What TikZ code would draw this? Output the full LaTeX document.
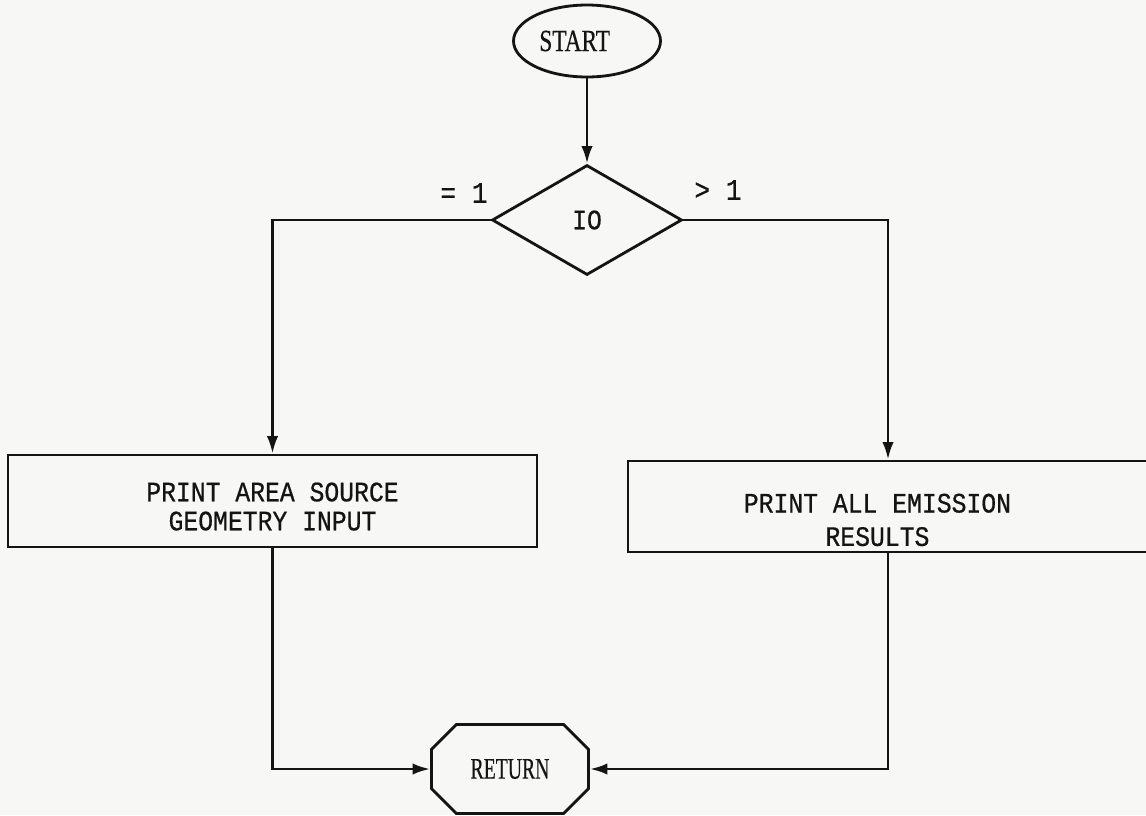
\documentclass[tikz,border=0pt]{standalone}
\usepackage{fontspec}
\setmainfont[FakeStretch=0.88,FakeBold=0.6]{Liberation Mono}
\newfontfamily\serifstart[FakeStretch=0.76,FakeBold=0.4]{Liberation Serif}
\newfontfamily\serifret[FakeStretch=0.66,FakeBold=0.4]{Liberation Serif}
\usetikzlibrary{shapes.geometric,shapes.misc,arrows.meta}
\definecolor{paper}{RGB}{247,247,245}
\definecolor{ink}{RGB}{20,20,20}
\begin{document}
\begin{tikzpicture}[x=0.02cm,y=-0.02cm,
  line width=1.6pt, draw=ink,
  arr/.style={draw=ink,-{Latex[length=10pt,width=6.5pt]}},
  boxtxt/.style={font=\fontsize{16}{16}\selectfont, align=center, text=ink},
  procbox/.style={draw=ink, rectangle, inner sep=0pt, boxtxt},
  lbl/.style={font=\fontsize{17}{17}\selectfont, text=ink}
]
\fill[paper] (0,0) rectangle (1146,815);
\useasboundingbox (0,0) rectangle (1146,815);

\node[draw=ink, ellipse, minimum width=2.94cm, minimum height=1.44cm, inner sep=0pt,
      font=\serifstart\fontsize{17.5}{17.5}\selectfont, text=ink] (start) at (587,41) {START\hspace*{14pt}};
\node[draw=ink, diamond, aspect=1.727, minimum width=3.8cm, minimum height=2.2cm, inner sep=0pt,
      boxtxt] (dia) at (587,220) {IO};
\node[lbl] (eq) at (464,193) {= 1};
\node[lbl] (gt) at (718,190) {> 1};

\node[procbox, minimum width=10.58cm, minimum height=1.84cm] (lbox) at (272.5,501)
  {\rule{0pt}{17pt}PRINT AREA SOURCE\\[0.5pt]GEOMETRY INPUT};
\node[procbox, minimum width=10.4cm, minimum height=1.82cm] (rbox) at (888,506.5)
  {\rule{0pt}{26pt}PRINT ALL EMISSION\hspace*{12pt}\\[3pt]RESULTS\hspace*{12pt}};

\node[draw=ink, chamfered rectangle, chamfered rectangle xsep=0.32cm, chamfered rectangle ysep=0.3cm,
      minimum width=3.14cm, minimum height=1.78cm, inner sep=0pt,
      font=\serifret\fontsize{17}{17}\selectfont, text=ink] (ret) at (510,769) {RETURN};

\draw[arr] (start) -- (dia);
\draw[arr] (dia.west) -| (lbox.north);
\draw[arr] (dia.east) -| (rbox.north);
\draw[arr] (lbox.south) |- (ret.west);
\draw[arr] (rbox.south) |- (ret.east);
\end{tikzpicture}
\end{document}
